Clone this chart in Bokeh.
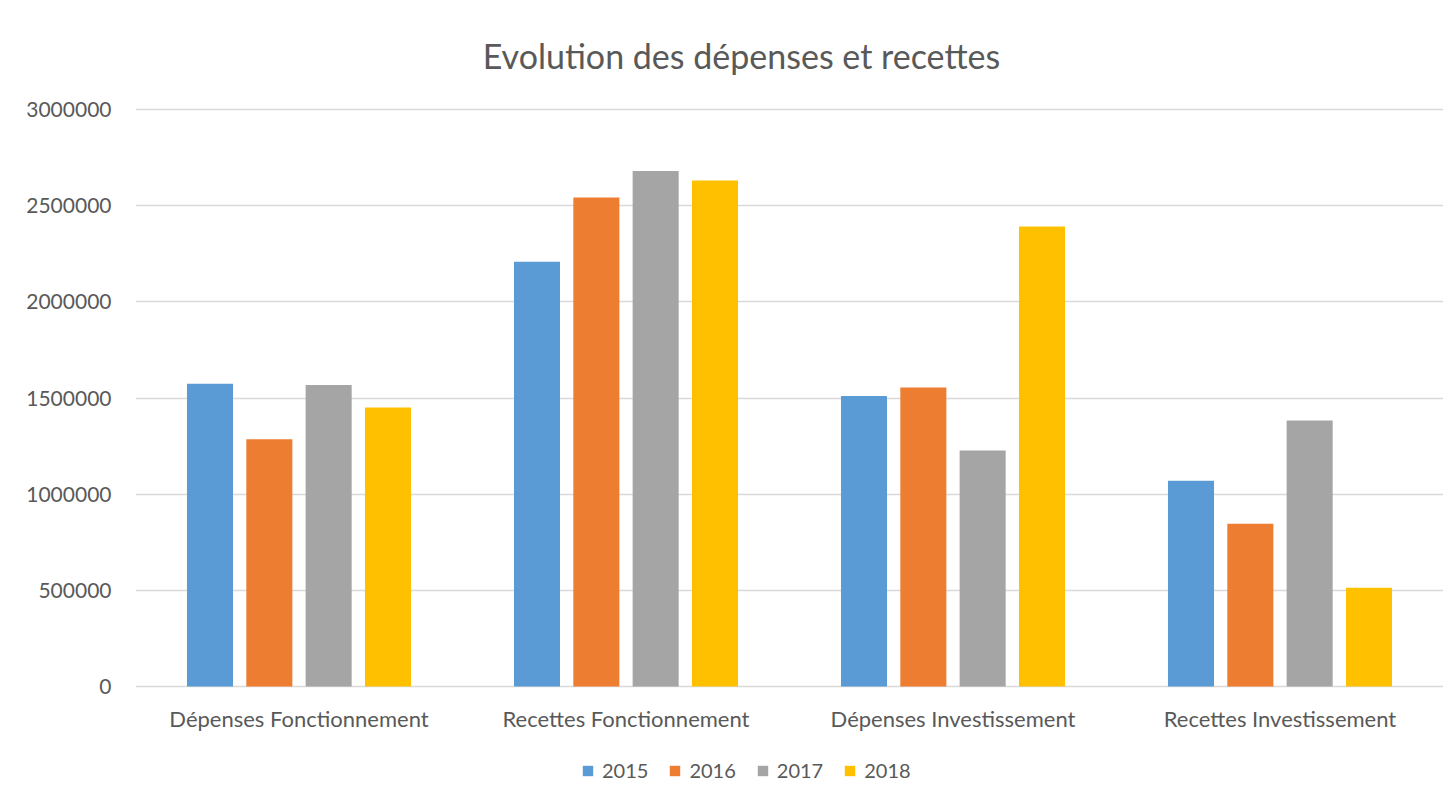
from bokeh.plotting import figure
from bokeh.models import ColumnDataSource, FactorRange, Range1d, Legend, LegendItem, FixedTicker, BasicTickFormatter, Label
from bokeh.transform import dodge
from bokeh.core.properties import value
from bokeh.embed import file_html
from bokeh.resources import INLINE

categories = ["Dépenses Fonctionnement", "Recettes Fonctionnement", "Dépenses Investissement", "Recettes Investissement"]
years = ["2015", "2016", "2017", "2018"]
v2015 = [1574000, 2208000, 1510000, 1070000]
v2016 = [1285000, 2543000, 1555000, 846000]
v2017 = [1567000, 2680000, 1227000, 1383000]
v2018 = [1451000, 2631000, 2392000, 513000]
y_ticks = [0, 500000, 1000000, 1500000, 2000000, 2500000, 3000000]
title_text = "Evolution des dépenses et recettes"

colors = ["#5B9BD5", "#ED7D31", "#A5A5A5", "#FFC000"]
TEXT = "#595959"
GRID = "#D9D9D9"
FONT = "Lato"

# layout (pixels)
LEFT = 135
FRAME_W = 1308
FIG_H = 797
Y_TOP_PX = 109    # pixel row of the axis maximum
Y_ZERO_PX = 686   # pixel row of the axis zero
Y_MAX = 3000000
per_px = Y_MAX / (Y_ZERO_PX - Y_TOP_PX)
y_start = -(FIG_H - Y_ZERO_PX) * per_px
y_end = Y_MAX + Y_TOP_PX * per_px

source = ColumnDataSource(data=dict(cat=categories, y2015=v2015, y2016=v2016, y2017=v2017, y2018=v2018))

p = figure(x_range=FactorRange(*categories), y_range=Range1d(y_start, y_end),
           frame_width=FRAME_W, frame_height=FIG_H, output_backend="svg", toolbar_location=None,
           title_location=None,
           min_border_left=LEFT, min_border_right=0, min_border_top=0, min_border_bottom=0)
p.outline_line_color = None
p.background_fill_color = "white"
p.border_fill_color = "white"

offsets = [-0.2722, -0.0907, 0.0907, 0.2722]
bw = 0.1408
renderers = []
for yr, off, c in zip(years, offsets, colors):
    r = p.vbar(x=dodge("cat", off, range=p.x_range), top="y" + yr, width=bw, source=source,
               fill_color=c, line_color=None)
    renderers.append(r)

# category labels under the zero line
p.text(x=categories, y=[(Y_ZERO_PX - 718) * per_px] * len(categories), text=categories,
       text_font=value(FONT), text_font_size="22px", text_color=TEXT,
       text_align="center", text_baseline="middle")

# chart title
p.add_layout(Label(x=(741 - LEFT) / (FRAME_W / len(categories)), y=(Y_ZERO_PX - 55) * per_px,
                   text=title_text, text_font=FONT, text_font_size="34px", text_color=TEXT,
                   text_align="center", text_baseline="middle"))

p.xaxis.visible = False

p.yaxis.ticker = FixedTicker(ticks=y_ticks)
p.yaxis.formatter = BasicTickFormatter(use_scientific=False)
p.yaxis.axis_line_color = None
p.yaxis.major_tick_line_color = None
p.yaxis.minor_tick_line_color = None
p.yaxis.major_label_text_font = FONT
p.yaxis.major_label_text_font_size = "21px"
p.yaxis.major_label_text_color = TEXT
p.yaxis.major_label_standoff = 18

p.xgrid.grid_line_color = None
p.ygrid.grid_line_color = GRID
p.ygrid.grid_line_width = 1.5

legend = Legend(items=[LegendItem(label=yr, renderers=[r]) for yr, r in zip(years, renderers)],
                orientation="horizontal", location=(446, FIG_H - 770 - 12),
                label_text_font=FONT, label_text_font_size="20px", label_text_color=TEXT,
                glyph_width=13, glyph_height=13, label_height=24, spacing=20, label_standoff=8,
                border_line_color=None, background_fill_alpha=0, padding=0, margin=0)
p.add_layout(legend, "center")

open("out.html", "w").write(file_html(p, INLINE))
